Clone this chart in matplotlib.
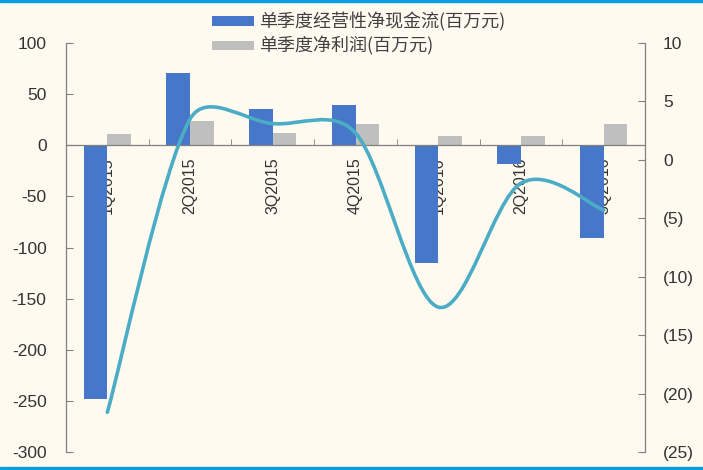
import numpy as np
import matplotlib
matplotlib.use("Agg")
import matplotlib.pyplot as plt
from matplotlib.path import Path
from matplotlib.patches import PathPatch, Rectangle
from matplotlib.ticker import FuncFormatter, FixedLocator

plt.rcParams['font.family'] = ['Liberation Sans', 'Noto Sans CJK SC', 'DejaVu Sans']
plt.rcParams['axes.unicode_minus'] = False

quarters = ["1Q2015", "2Q2015", "3Q2015", "4Q2015", "1Q2016", "2Q2016", "3Q2016"]
cash_flow = [-248, 71, 35, 39, -115, -18, -91]      # 单季度经营性净现金流, left axis
net_profit = [10.7, 24, 11.5, 21, 9, 9, 21]          # 单季度净利润, left axis
line_vals = [-21.6, 3.5, 3.1, 2.3, -12.6, -2.0, -4.3]  # curve, right axis
cash_label = "单季度经营性净现金流(百万元)"
profit_label = "单季度净利润(百万元)"

BG = "#FFFAF0"
BLUE = "#4677C8"
GRAY = "#BFBFBF"
TEAL = "#4BACC6"
AXIS = "#808080"
TXT = "#333333"


def smooth_path(ax, xs, ys, f=1 / 6, cap=0.4):
    """Excel-like smoothed line: cubic beziers built in screen space."""
    pts = ax.transData.transform(np.column_stack([xs, ys]))
    n = len(pts)
    tang, arm_in, arm_out = [], [], []
    for i in range(n):
        a = pts[max(i - 1, 0)]
        b = pts[min(i + 1, n - 1)]
        d = b - a
        span = np.hypot(*d)
        tang.append(d / span)
        din = np.hypot(*(pts[i] - a))
        dout = np.hypot(*(b - pts[i]))
        arm_in.append(min(f * span, cap * din) if din > 0 else 0)
        arm_out.append(min(f * span, cap * dout) if dout > 0 else 0)
    verts = [pts[0]]
    codes = [Path.MOVETO]
    for i in range(n - 1):
        verts += [pts[i] + tang[i] * arm_out[i],
                  pts[i + 1] - tang[i + 1] * arm_in[i + 1],
                  pts[i + 1]]
        codes += [Path.CURVE4] * 3
    verts = ax.transData.inverted().transform(np.array(verts))
    return Path(verts, codes)


fig = plt.figure(figsize=(7.03, 4.70), dpi=100, facecolor=BG)
ax = fig.add_axes([66 / 703, 1 - 452 / 470, (645 - 66) / 703, (452 - 43) / 470])
ax.set_facecolor(BG)

x = np.arange(len(quarters))
w = 0.285
b1 = ax.bar(x - w / 2, cash_flow, w, color=BLUE, label=cash_label, zorder=2)
b2 = ax.bar(x + w / 2, net_profit, w, color=GRAY, label=profit_label, zorder=2)

ax.set_xlim(-0.5, len(quarters) - 0.5)
ax.set_ylim(-300, 100)
ax.set_yticks(np.arange(-300, 101, 50))
ax.yaxis.set_major_formatter(FuncFormatter(lambda v, p: f"{int(v)}"))

ax.spines['top'].set_visible(False)
ax.spines['right'].set_visible(False)
ax.spines['bottom'].set_position(('data', 0))
for s in ['left', 'bottom']:
    ax.spines[s].set_color(AXIS)
    ax.spines[s].set_linewidth(0.9)

ax.set_xticks(x)
ax.set_xticklabels(quarters, rotation=90, fontsize=11.5, color=TXT)
ax.xaxis.set_minor_locator(FixedLocator(x[:-1] + 0.5))
ax.tick_params(axis='x', which='major', length=0, pad=9)
ax.tick_params(axis='x', which='minor', direction='in', length=4, color=AXIS)
ax.tick_params(axis='y', direction='in', length=5, color=AXIS, labelsize=12.5,
               labelcolor=TXT, pad=14)

ax2 = ax.twinx()
ax2.set_ylim(-25, 10)
ax2.set_yticks(np.arange(-25, 11, 5))
ax2.yaxis.set_major_formatter(FuncFormatter(
    lambda v, p: f"({abs(int(v))})" if v < 0 else f"{int(v)}"))
for s in ['top', 'left', 'bottom']:
    ax2.spines[s].set_visible(False)
ax2.spines['right'].set_color(AXIS)
ax2.spines['right'].set_linewidth(0.9)
ax2.tick_params(axis='y', direction='in', length=5, color=AXIS, labelsize=12.5,
                labelcolor=TXT, pad=13)

ax2.add_patch(PathPatch(smooth_path(ax2, x, line_vals), fill=False,
                        edgecolor=TEAL, linewidth=2.6, capstyle='round', zorder=3))

fig.legend(handles=[b1, b2], loc='upper left',
           bbox_to_anchor=(212 / 703, 1 - 12 / 470), bbox_transform=fig.transFigure,
           frameon=False, prop={'family': ['Noto Sans CJK SC', 'DejaVu Sans'], 'size': 13},
           labelcolor='#404040', handlelength=2.3, handleheight=0.45,
           handletextpad=0.3, labelspacing=0.32, borderpad=0, borderaxespad=0)

# blue border bands at top and bottom
fig.add_artist(Rectangle((0, 1 - 2 / 470), 1, 2 / 470, transform=fig.transFigure,
                         color="#0A9DE0", zorder=10))
fig.add_artist(Rectangle((0, 0), 1, 3 / 470, transform=fig.transFigure,
                         color="#0A9DE0", zorder=10))

fig.savefig("out.png", dpi=100, facecolor=BG)
